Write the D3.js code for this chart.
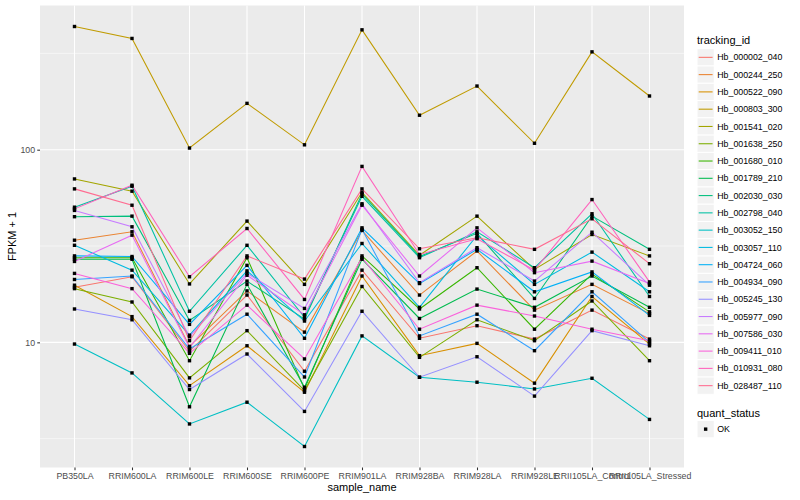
<html>
<head>
<script src="https://cdnjs.cloudflare.com/ajax/libs/d3/7.8.5/d3.min.js"></script>
<style>
    body { margin: 0; background: #fff; }
    text { font-family: "Liberation Sans", Arial, sans-serif; }
</style>
</head>
<body>
<script>
// samples on the x axis
var samples = ["PB350LA", "RRIM600LA", "RRIM600LE", "RRIM600SE", "RRIM600PE", "RRIM901LA",
    "RRIM928BA", "RRIM928LA", "RRIM928LE", "RRII105LA_Control", "RRII105LA_Stressed"];

var tracking_ids = ["Hb_000002_040", "Hb_000244_250", "Hb_000522_090", "Hb_000803_300", "Hb_001541_020",
    "Hb_001638_250", "Hb_001680_010", "Hb_001789_210", "Hb_002030_030", "Hb_002798_040",
    "Hb_003052_150", "Hb_003057_110", "Hb_004724_060", "Hb_004934_090", "Hb_005245_130",
    "Hb_005977_090", "Hb_007586_030", "Hb_009411_010", "Hb_010931_080", "Hb_028487_110"];

// FPKM + 1, one row per tracking_id, one value per sample
var fpkm = [
    [19.3, 21.9, 8.99, 17.6, 7.08, 23.7, 10.5, 12.2, 10.4, 14.7, 10.4],
    [33.9, 37.5, 9.53, 18.5, 11.3, 38.1, 17.6, 29.8, 14.7, 20.0, 14.1],
    [19.8, 13.6, 5.96, 9.60, 5.51, 22.1, 8.53, 9.88, 6.14, 17.3, 9.80],
    [436, 378, 102, 174, 106, 419, 151, 214, 108, 322, 190],
    [70.5, 60.9, 20.1, 42.6, 20.0, 60.1, 28.3, 45.2, 23.9, 36.3, 28.1],
    [19.0, 16.2, 6.54, 11.5, 5.62, 19.5, 8.36, 13.1, 10.2, 16.4, 8.03],
    [27.5, 27.5, 8.03, 27.5, 5.73, 28.1, 14.9, 24.4, 11.7, 22.6, 14.4],
    [27.0, 27.0, 4.63, 20.0, 5.85, 27.0, 13.3, 18.9, 15.2, 22.1, 15.2],
    [44.9, 45.2, 13.0, 20.8, 13.2, 59.0, 27.9, 36.8, 16.9, 45.2, 30.4],
    [50.3, 64.6, 14.5, 31.9, 13.5, 57.3, 27.5, 37.5, 24.4, 46.5, 17.3],
    [9.80, 6.94, 3.77, 4.89, 2.88, 10.8, 6.59, 6.21, 5.73, 6.51, 3.98],
    [31.9, 23.7, 10.9, 23.5, 12.9, 32.6, 15.2, 35.9, 20.0, 29.4, 18.3],
    [28.1, 27.9, 12.4, 25.1, 10.5, 39.3, 20.2, 30.4, 18.3, 23.2, 13.8],
    [21.2, 22.1, 9.23, 14.0, 6.61, 38.6, 10.8, 14.0, 9.05, 18.3, 10.0],
    [14.9, 13.1, 5.69, 8.70, 4.38, 14.5, 6.59, 8.42, 5.26, 11.5, 9.60],
    [48.4, 39.8, 10.7, 22.8, 15.0, 52.4, 20.4, 31.0, 20.8, 37.3, 19.8],
    [26.3, 36.0, 9.40, 22.3, 13.9, 51.5, 22.1, 39.3, 23.0, 26.4, 20.2],
    [22.8, 19.0, 8.77, 15.6, 8.20, 27.5, 11.7, 15.6, 13.7, 11.7, 10.2],
    [49.3, 65.4, 21.9, 39.0, 16.7, 81.9, 28.6, 34.5, 23.7, 55.1, 20.6],
    [62.6, 51.5, 10.2, 28.1, 21.3, 62.6, 30.6, 34.9, 30.4, 43.8, 25.6]
];

var quant_status = ["OK"];
var y_breaks = [10, 100];
var y_minor_breaks = [3.162, 31.62, 316.2];

// ggplot default hue palette for 20 groups
var colors = ["#F8766D", "#EA8331", "#D89000", "#C09B00", "#A3A500", "#7CAE00", "#39B600", "#00BB4E",
    "#00BF7D", "#00C1A3", "#00BFC4", "#00BAE0", "#00B0F6", "#35A2FF", "#9590FF", "#C77CFF",
    "#E76BF3", "#FA62DB", "#FF62BC", "#FF6C91"];

var width = 800, height = 500;
var panel = {left: 40, right: 684, top: 5.5, bottom: 467.5};

var svg = d3.select("body").append("svg")
    .attr("width", width)
    .attr("height", height);

var x = d3.scalePoint()
    .domain(samples)
    .range([panel.left, panel.right])
    .padding(0.6);

// log scale, 5% expansion of the data range like ggplot
var all_values = d3.merge(fpkm);
var lo = Math.log10(d3.min(all_values)), hi = Math.log10(d3.max(all_values));
var pad = (hi - lo) * 0.05;
var y = d3.scaleLog()
    .domain([Math.pow(10, lo - pad), Math.pow(10, hi + pad)])
    .range([panel.bottom, panel.top]);

svg.append("rect")
    .attr("x", panel.left)
    .attr("y", panel.top)
    .attr("width", panel.right - panel.left)
    .attr("height", panel.bottom - panel.top)
    .attr("fill", "#EBEBEB");

var grid = svg.append("g");
grid.selectAll(".minor")
    .data(y_minor_breaks)
    .enter().append("line")
    .attr("x1", panel.left).attr("x2", panel.right)
    .attr("y1", function (d) { return y(d); })
    .attr("y2", function (d) { return y(d); })
    .attr("stroke", "#fff").attr("stroke-width", 0.53);
grid.selectAll(".major")
    .data(y_breaks)
    .enter().append("line")
    .attr("x1", panel.left).attr("x2", panel.right)
    .attr("y1", function (d) { return y(d); })
    .attr("y2", function (d) { return y(d); })
    .attr("stroke", "#fff").attr("stroke-width", 1.07);
grid.selectAll(".vert")
    .data(samples)
    .enter().append("line")
    .attr("y1", panel.top).attr("y2", panel.bottom)
    .attr("x1", function (d) { return x(d); })
    .attr("x2", function (d) { return x(d); })
    .attr("stroke", "#fff").attr("stroke-width", 1.07);

var line = d3.line()
    .x(function (d, i) { return x(samples[i]); })
    .y(function (d) { return y(d); });

svg.append("g").selectAll("path")
    .data(fpkm)
    .enter().append("path")
    .attr("d", line)
    .attr("fill", "none")
    .attr("stroke", function (d, i) { return colors[i]; })
    .attr("stroke-width", 1.07);

var pts = [];
fpkm.forEach(function (row) {
    row.forEach(function (v, j) { pts.push({s: samples[j], v: v}); });
});
svg.append("g").selectAll("rect")
    .data(pts)
    .enter().append("rect")
    .attr("x", function (d) { return x(d.s) - 1.7; })
    .attr("y", function (d) { return y(d.v) - 1.7; })
    .attr("width", 3.4)
    .attr("height", 3.4)
    .attr("fill", "#000");

// axes
var yAxis = svg.append("g")
    .attr("transform", "translate(" + panel.left + ",0)")
    .call(d3.axisLeft(y).tickValues(y_breaks).tickFormat(d3.format("d")).tickSize(2.75).tickPadding(2.2));
var xAxis = svg.append("g")
    .attr("transform", "translate(0," + panel.bottom + ")")
    .call(d3.axisBottom(x).tickSize(2.75).tickPadding(2.2));
[xAxis, yAxis].forEach(function (a) {
    a.select(".domain").remove();
    a.selectAll(".tick line").attr("stroke", "#333").attr("stroke-width", 1.07);
    a.selectAll(".tick text").attr("fill", "#4D4D4D").style("font-size", "8.8px")
        .style("font-family", "'Liberation Sans', Arial, sans-serif");
});

svg.append("text")
    .attr("x", (panel.left + panel.right) / 2)
    .attr("y", 491)
    .attr("text-anchor", "middle")
    .style("font-size", "11px")
    .text("sample_name");

svg.append("text")
    .attr("transform", "translate(16," + ((panel.top + panel.bottom) / 2) + ") rotate(-90)")
    .attr("text-anchor", "middle")
    .style("font-size", "11px")
    .text("FPKM + 1");

// legend
var lx = 697, key = 17.28;
var legend = svg.append("g");
legend.append("text")
    .attr("x", lx).attr("y", 44)
    .style("font-size", "11px")
    .text("tracking_id");

var items = legend.selectAll(".item")
    .data(tracking_ids)
    .enter().append("g")
    .attr("transform", function (d, i) { return "translate(" + lx + "," + (48.7 + i * key) + ")"; });
items.append("rect")
    .attr("width", key).attr("height", key)
    .attr("fill", "#F2F2F2").attr("stroke", "#fff");
items.append("line")
    .attr("x1", 1.7).attr("x2", key - 1.7)
    .attr("y1", key / 2).attr("y2", key / 2)
    .attr("stroke", function (d, i) { return colors[i]; })
    .attr("stroke-width", 1.07);
items.append("text")
    .attr("x", key + 3)
    .attr("y", key / 2 + 3.1)
    .style("font-size", "8.8px")
    .text(function (d) { return d; });

legend.append("text")
    .attr("x", lx).attr("y", 416.5)
    .style("font-size", "11px")
    .text("quant_status");

var qs = legend.selectAll(".qs")
    .data(quant_status)
    .enter().append("g")
    .attr("transform", function (d, i) { return "translate(" + lx + "," + (420.5 + i * key) + ")"; });
qs.append("rect")
    .attr("width", key).attr("height", key)
    .attr("fill", "#F2F2F2").attr("stroke", "#fff");
qs.append("rect")
    .attr("x", key / 2 - 1.7).attr("y", key / 2 - 1.7)
    .attr("width", 3.4).attr("height", 3.4)
    .attr("fill", "#000");
qs.append("text")
    .attr("x", key + 3)
    .attr("y", key / 2 + 3.1)
    .style("font-size", "8.8px")
    .text(function (d) { return d; });
</script>
</body>
</html>
